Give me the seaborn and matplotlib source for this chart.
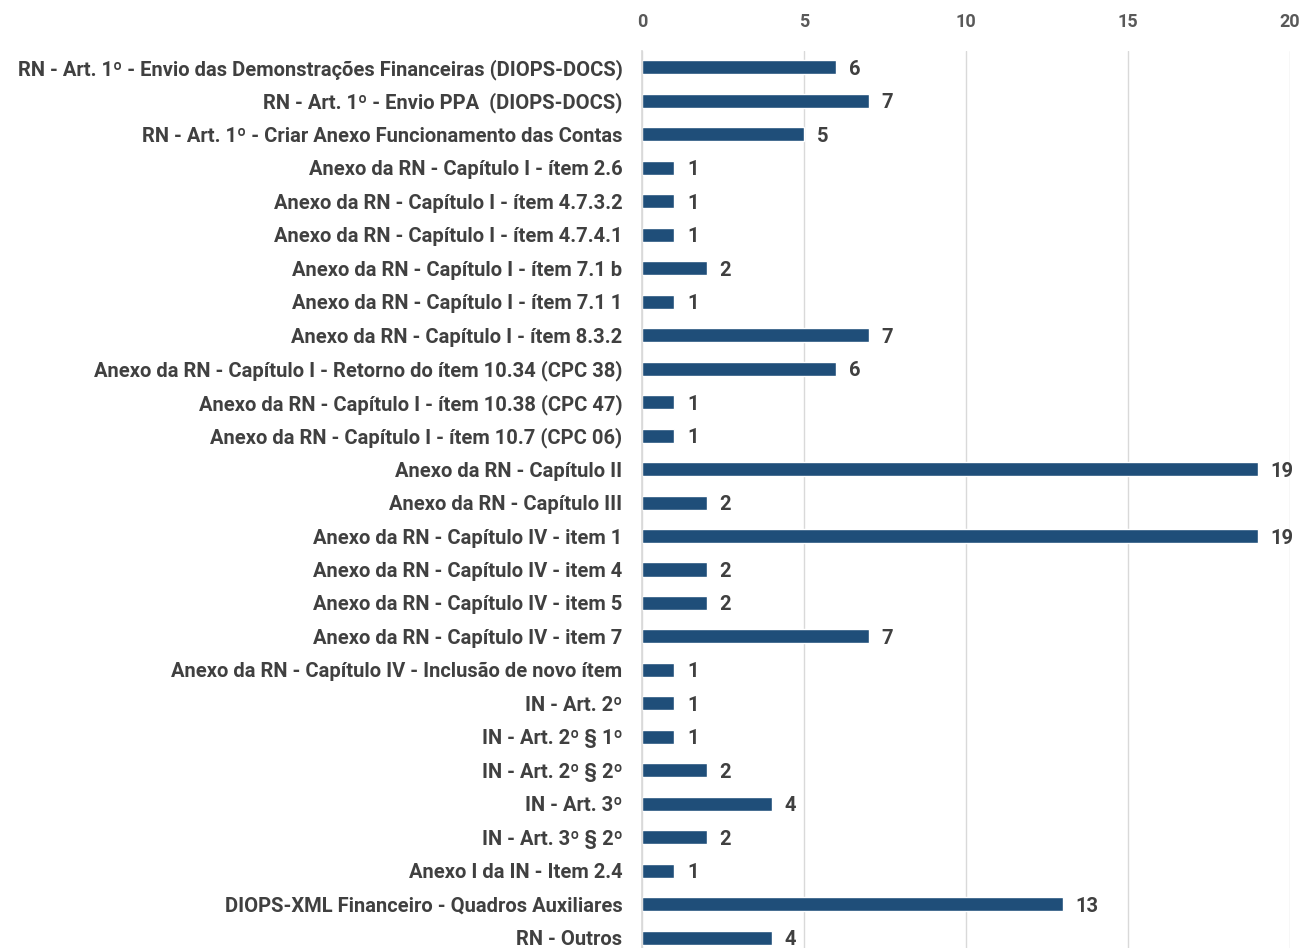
import matplotlib
matplotlib.use("Agg")
import matplotlib.pyplot as plt
import seaborn as sns
import pandas as pd
from matplotlib import font_manager

categories = [
    "RN - Art. 1º - Envio das Demonstrações Financeiras (DIOPS-DOCS)",
    "RN - Art. 1º - Envio PPA  (DIOPS-DOCS)",
    "RN - Art. 1º - Criar Anexo Funcionamento das Contas",
    "Anexo da RN - Capítulo I - ítem 2.6",
    "Anexo da RN - Capítulo I - ítem 4.7.3.2",
    "Anexo da RN - Capítulo I - ítem 4.7.4.1",
    "Anexo da RN - Capítulo I - ítem 7.1 b",
    "Anexo da RN - Capítulo I - ítem 7.1 1",
    "Anexo da RN - Capítulo I - ítem 8.3.2",
    "Anexo da RN - Capítulo I - Retorno do ítem 10.34 (CPC 38)",
    "Anexo da RN - Capítulo I - ítem 10.38 (CPC 47)",
    "Anexo da RN - Capítulo I - ítem 10.7 (CPC 06)",
    "Anexo da RN - Capítulo II",
    "Anexo da RN - Capítulo III",
    "Anexo da RN - Capítulo IV - item 1",
    "Anexo da RN - Capítulo IV - item 4",
    "Anexo da RN - Capítulo IV - item 5",
    "Anexo da RN - Capítulo IV - item 7",
    "Anexo da RN - Capítulo IV - Inclusão de novo ítem",
    "IN - Art. 2º",
    "IN - Art. 2º § 1º",
    "IN - Art. 2º § 2º",
    "IN - Art. 3º",
    "IN - Art. 3º § 2º",
    "Anexo I da IN - Item 2.4",
    "DIOPS-XML Financeiro - Quadros Auxiliares",
    "RN - Outros",
]
values = [6, 7, 5, 1, 1, 1, 2, 1, 7, 6, 1, 1, 19, 2, 19, 2, 2, 7, 1, 1, 1, 2, 4, 2, 1, 13, 4]
x_ticks = [0, 5, 10, 15, 20]

df = pd.DataFrame({"cat": categories, "val": values})

sns.set_theme(style="white")
available = {f.name for f in font_manager.fontManager.ttflist}
fam = "Liberation Sans Narrow" if "Liberation Sans Narrow" in available else "Roboto"
plt.rcParams["font.family"] = [fam, "DejaVu Sans"]

fig = plt.figure(figsize=(13.03, 9.48), dpi=100)
ax = fig.add_axes([0.4927, -0.0068, 0.4973, 0.9534])

sns.barplot(data=df, x="val", y="cat", orient="h", color="#1F4E79",
            saturation=1, width=0.42, ax=ax)

n = len(categories)
ax.set_ylim(n - 0.5, -0.5)
ax.set_xlim(0, 20)
ax.set_xticks(x_ticks)
ax.xaxis.tick_top()
ax.tick_params(axis="x", length=0, pad=14, labelsize=13, labelcolor="#595959")
ax.tick_params(axis="y", length=0, pad=14, labelsize=14.5, labelcolor="#404040")
for lab in ax.get_yticklabels():
    lab.set_fontweight("bold")
for lab in ax.get_xticklabels():
    lab.set_fontweight("bold")
ax.set_xlabel("")
ax.set_ylabel("")
ax.grid(axis="x", color="#D9D9D9", linewidth=1)
ax.set_axisbelow(True)
for s in ["top", "right", "bottom"]:
    ax.spines[s].set_visible(False)
ax.spines["left"].set_color("#D9D9D9")

for i, v in enumerate(values):
    ax.annotate(str(v), xy=(v, i), xytext=(9, 0), textcoords="offset points",
                va="center_baseline", ha="left", fontsize=14.5, fontweight="bold",
                color="#404040")

fig.savefig("out.png", dpi=100)
